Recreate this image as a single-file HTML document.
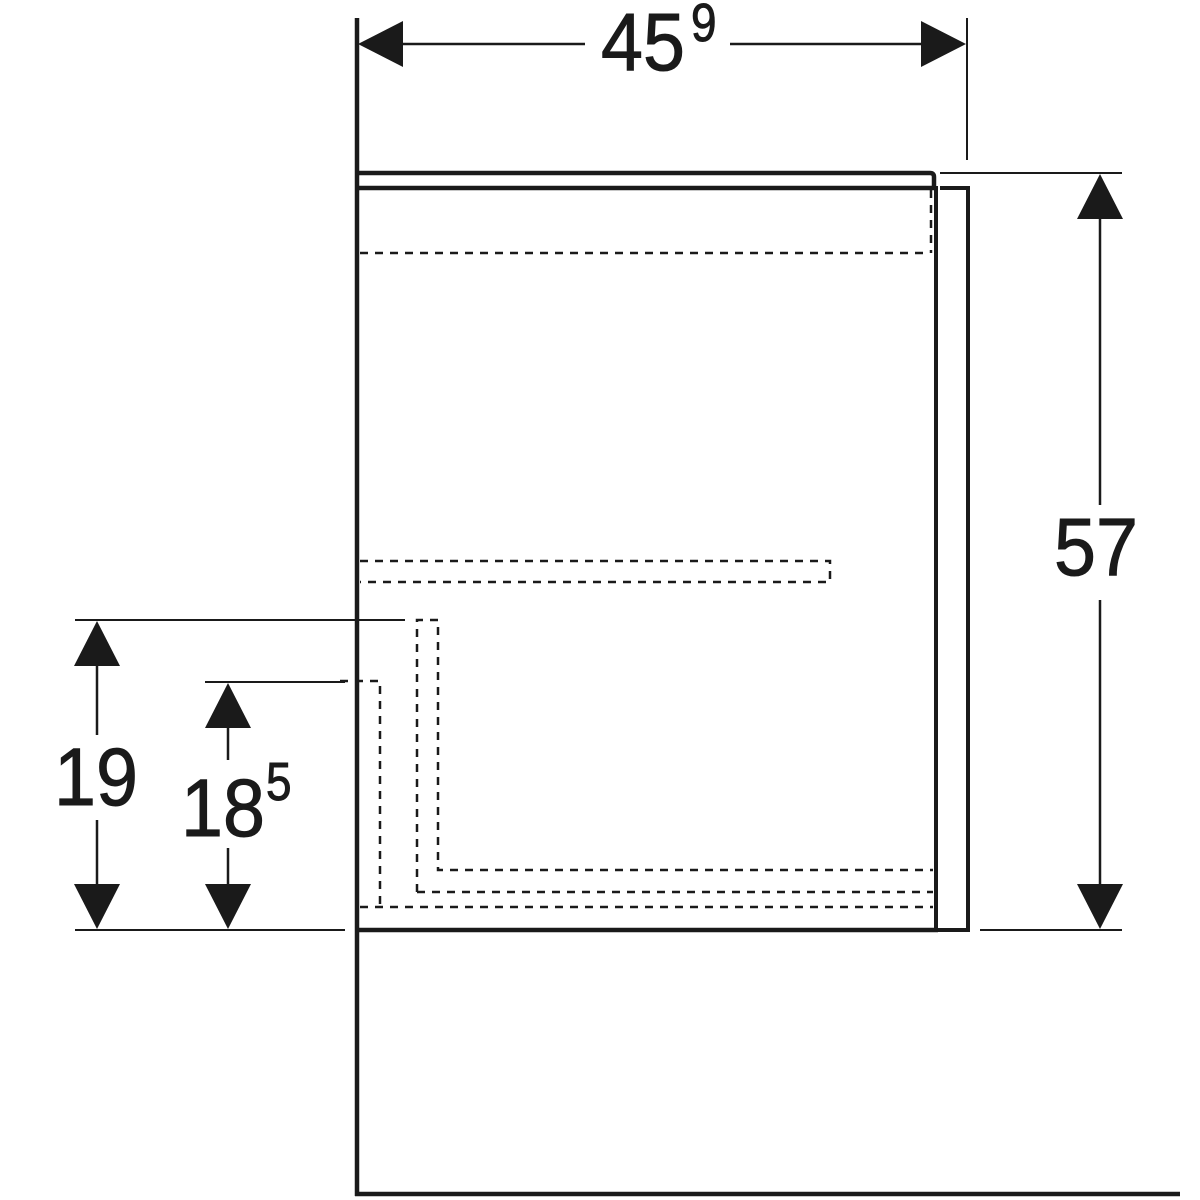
<!DOCTYPE html>
<html><head><style>
html,body{margin:0;padding:0;background:#fff;}
svg{display:block}
text{font-family:"Liberation Sans",Arial,sans-serif;fill:#1a1a1a}
</style></head><body>
<svg width="1200" height="1200" viewBox="0 0 1200 1200" xmlns="http://www.w3.org/2000/svg">
<g stroke="#1a1a1a" fill="none">
<line x1="357" y1="18" x2="357" y2="1196" stroke-width="4.5"/>
<line x1="355" y1="1194" x2="1180" y2="1194" stroke-width="4.5"/>
<line x1="967" y1="18" x2="967" y2="160" stroke-width="2"/>
<line x1="400" y1="44" x2="585" y2="44" stroke-width="2.5"/>
<line x1="730" y1="44" x2="925" y2="44" stroke-width="2.5"/>
<path d="M357 173 H930 Q934 173 934 177 V188" stroke-width="4.5"/>
<line x1="357" y1="188" x2="936" y2="188" stroke-width="4.5"/>
<path d="M936 186 V930 M940 188 H968 V930 H936" stroke-width="4"/>
<line x1="357" y1="930" x2="938" y2="930" stroke-width="4.5"/>
<line x1="940" y1="173" x2="1122" y2="173" stroke-width="2"/>
<line x1="980" y1="930" x2="1122" y2="930" stroke-width="2"/>
<line x1="1100" y1="215" x2="1100" y2="505" stroke-width="2.5"/>
<line x1="1100" y1="600" x2="1100" y2="888" stroke-width="2.5"/>
<line x1="75" y1="620" x2="405" y2="620" stroke-width="2"/>
<line x1="75" y1="930" x2="345" y2="930" stroke-width="2"/>
<line x1="205" y1="682" x2="345" y2="682" stroke-width="2"/>
<line x1="97" y1="662" x2="97" y2="735" stroke-width="2.5"/>
<line x1="97" y1="820" x2="97" y2="888" stroke-width="2.5"/>
<line x1="228" y1="724" x2="228" y2="760" stroke-width="2.5"/>
<line x1="228" y1="848" x2="228" y2="888" stroke-width="2.5"/>
</g>
<g stroke="#1a1a1a" fill="none" stroke-width="2.5" stroke-dasharray="8,7">
<line x1="360" y1="253" x2="930" y2="253"/>
<line x1="931" y1="190" x2="931" y2="253"/>
<path d="M360 561 H830 V582 H360"/>
<path d="M417 892 V620 H438 V870 H933"/>
<line x1="417" y1="892" x2="933" y2="892"/>
<path d="M340 681 H380 V907"/>
<line x1="360" y1="907" x2="933" y2="907"/>
</g>
<g fill="#1a1a1a">
<polygon points="358,44 403,21 403,67"/>
<polygon points="966,44 921,21 921,67"/>
<polygon points="1100,174 1077,219 1123,219"/>
<polygon points="1100,929 1077,884 1123,884"/>
<polygon points="97,621 74,666 120,666"/>
<polygon points="97,929 74,884 120,884"/>
<polygon points="228,683 205,728 251,728"/>
<polygon points="228,929 205,884 251,884"/>
</g>
<g stroke="#1a1a1a" stroke-width="1">
<text font-size="82" transform="translate(601 70) scale(0.92 1)">45</text>
<text font-size="54" transform="translate(691 41) scale(0.85 1)">9</text>
<text font-size="82" transform="translate(1054 575) scale(0.92 1)">57</text>
<text font-size="82" transform="translate(54 805) scale(0.92 1)">19</text>
<text font-size="82" transform="translate(181 836) scale(0.92 1)">18</text>
<text font-size="54" transform="translate(266 800) scale(0.85 1)">5</text>
</g>
</svg>
</body></html>
